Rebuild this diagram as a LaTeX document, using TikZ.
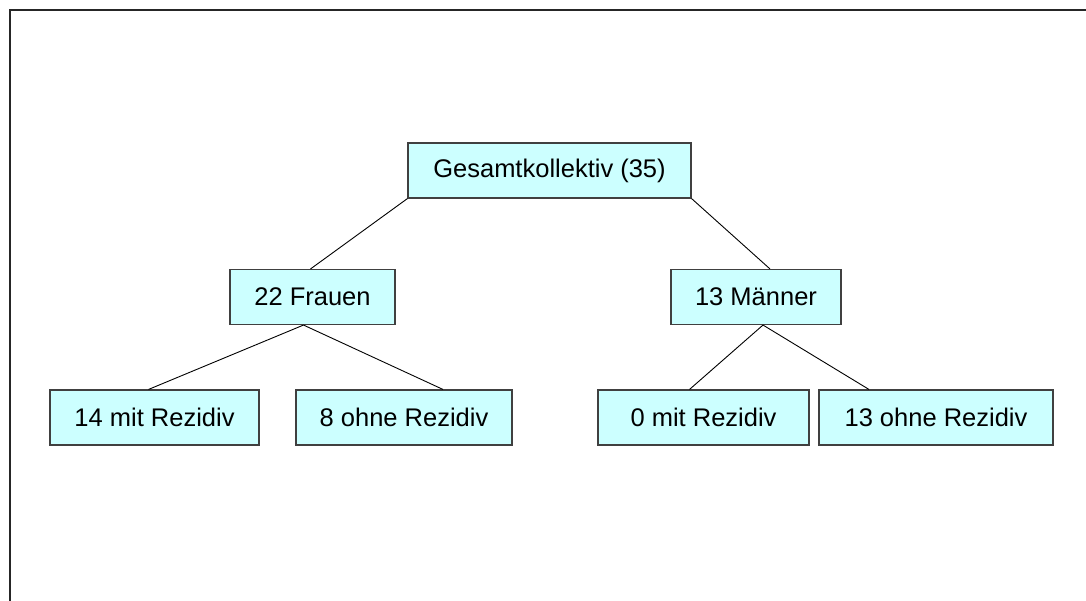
\documentclass[tikz,border=0pt]{standalone}
\usepackage{fontspec}
\setmainfont{Liberation Sans}
\begin{document}
\begin{tikzpicture}[x=1pt,y=-1pt,
  box/.style={draw=black!75,line width=1.1pt,fill={rgb,255:red,204;green,255;blue,255},
    minimum height=55pt,inner sep=0pt,font=\fontsize{25.5}{25.5}\selectfont},
  link/.style={draw=black,line width=0.9pt}]
\useasboundingbox (0,0) rectangle (1086,601);
\fill[white] (0,0) rectangle (1086,601);
\draw[line width=2.6pt,black!85] (10,601) -- (10,10) -- (1086,10);
\node[box,minimum width=283pt] (g) at (549.5,170.5) {Gesamtkollektiv (35)};
\node[box,minimum width=165pt] (f) at (312.5,297) {22 Frauen};
\node[box,minimum width=170pt] (m) at (756,297) {13 Männer};
\node[box,minimum width=209pt] (c1) at (154.5,417.5) {14 mit Rezidiv};
\node[box,minimum width=216pt] (c2) at (404,417.5) {8 ohne Rezidiv};
\node[box,minimum width=211pt] (c3) at (703.5,417.5) {0 mit Rezidiv};
\node[box,minimum width=234pt] (c4) at (936,417.5) {13 ohne Rezidiv};
\coordinate (fs) at ([xshift=-9pt]f.south);
\coordinate (ms) at ([xshift=7pt]m.south);
\draw[link] (g.south west) -- ([xshift=-2pt]f.north);
\draw[link] (g.south east) -- ([xshift=14pt]m.north);
\draw[link] (fs) -- ([xshift=-6pt]c1.north);
\draw[link] (fs) -- ([xshift=39pt]c2.north);
\draw[link] (ms) -- ([xshift=-14pt]c3.north);
\draw[link] (ms) -- ([xshift=-67pt]c4.north);
\end{tikzpicture}
\end{document}
